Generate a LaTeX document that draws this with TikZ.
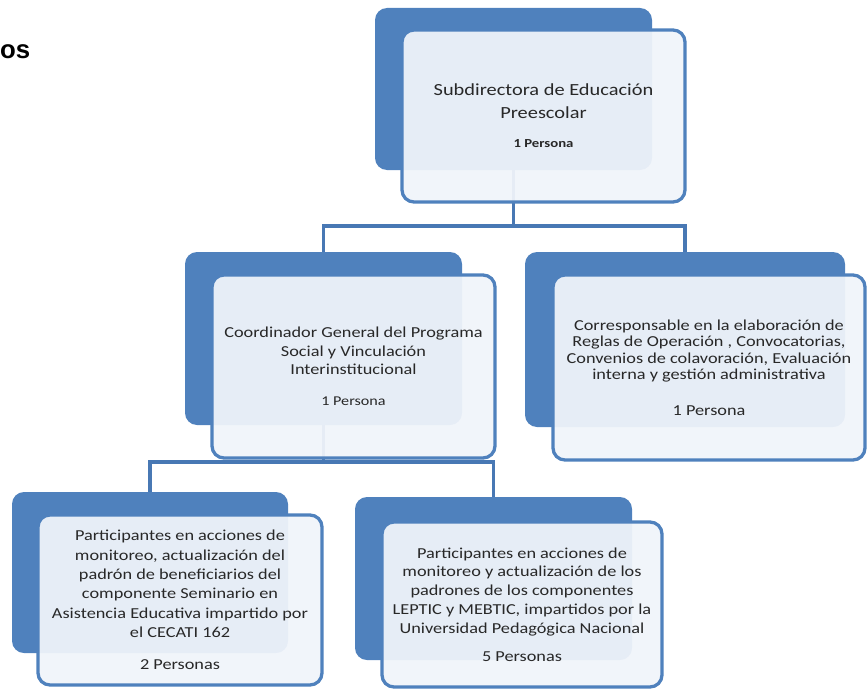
\documentclass[tikz,border=0pt]{standalone}
\usepackage{fontspec}
\setmainfont{Carlito}[FakeStretch=1.2]
\newfontfamily\tagfont{Liberation Sans}
\usepackage{xcolor}
\definecolor{boxblue}{RGB}{79, 129, 189}
\definecolor{linkblue}{RGB}{72, 120, 180}
\definecolor{paleblue}{RGB}{240, 244, 250}
\definecolor{inkgray}{RGB}{40, 40, 40}

\tikzset{
  backbox/.style={fill=boxblue,rounded corners=0.36cm,inner sep=0pt,outer sep=0pt},
  frontbox/.style={draw=boxblue,line width=2.8pt,fill=paleblue,fill opacity=0.94,text opacity=1,
    rounded corners=0.36cm,inner sep=0pt,outer sep=0pt,text=inkgray,align=center},
  link/.style={draw=linkblue,line width=2.8pt}
}

\begin{document}
\begin{tikzpicture}
        \useasboundingbox (0,0) rectangle (26.01,-20.64);

        % Cut-off heading
        \node[font=\tagfont\bfseries\fontsize{22}{24}\selectfont,anchor=west,inner sep=0pt] (tag) at (0,-1.56) {os};

        % Dark back plates
        \node[backbox,minimum width=8.31cm,minimum height=4.86cm] (subB) at (15.405,-2.67) {};
        \node[backbox,minimum width=8.31cm,minimum height=5.19cm] (coordB) at (9.705,-10.155) {};
        \node[backbox,minimum width=9.6cm,minimum height=5.25cm] (respB) at (20.55,-10.185) {};
        \node[backbox,minimum width=8.28cm,minimum height=4.83cm] (monB) at (4.5,-17.175) {};
        \node[backbox,minimum width=8.31cm,minimum height=4.89cm] (padB) at (14.805,-17.355) {};

        % Connectors
        \draw[link] (subB.south) -- ++(0,-1.68) coordinate (split1) -| (coordB.north);
        \draw[link] (split1) -| (respB.north);
        \draw[link] (coordB.south) -- ++(0,-1.11) coordinate (split2) -| (monB.north);
        \draw[link] (split2) -| (padB.north);

        % Front cards
        \node[frontbox,minimum width=8.49cm,minimum height=5.16cm,font=\fontsize{14.5}{19.6}\selectfont] (subF) at (16.305,-3.48) {
            Subdirectora de Educación\\
            Preescolar\\[5pt]
            {\bfseries\fontsize{10.5}{12}\selectfont 1 Persona}
        };
        \node[frontbox,minimum width=8.49cm,minimum height=5.49cm,font=\fontsize{13}{15.8}\selectfont] (coordF) at (10.605,-10.995) {
            Coordinador General del Programa\\
            Social y Vinculación\\
            Interinstitucional\\[11pt]
            {\fontsize{11.5}{13}\selectfont 1 Persona}
        };
        \node[frontbox,minimum width=9.36cm,minimum height=5.55cm,font=\fontsize{13}{14.2}\selectfont] (respF) at (21.27,-11.025) {
            Corresponsable en la elaboración de\\
            Reglas de Operación , Convocatorias,\\
            Convenios de colavoración, Evaluación\\
            interna y gestión administrativa\\[16pt]
            1 Persona
        };
        \node[frontbox,minimum width=8.52cm,minimum height=5.1cm,font=\fontsize{13}{16.5}\selectfont] (monF) at (5.4,-18.0) {
            Participantes en acciones de\\
            monitoreo, actualización del\\
            padrón de beneficiarios del\\
            componente Seminario en\\
            Asistencia Educativa impartido por\\
            el CECATI 162\\[11pt]
            2 Personas
        };
        \node[frontbox,minimum width=8.4cm,minimum height=4.95cm,font=\fontsize{13}{16}\selectfont] (padF) at (15.66,-18.135) {
            Participantes en acciones de\\
            monitoreo y actualización de los\\
            padrones de los componentes\\
            LEPTIC y MEBTIC, impartidos por la\\
            Universidad Pedagógica Nacional\\[8pt]
            5 Personas
        };
\end{tikzpicture}
\end{document}
